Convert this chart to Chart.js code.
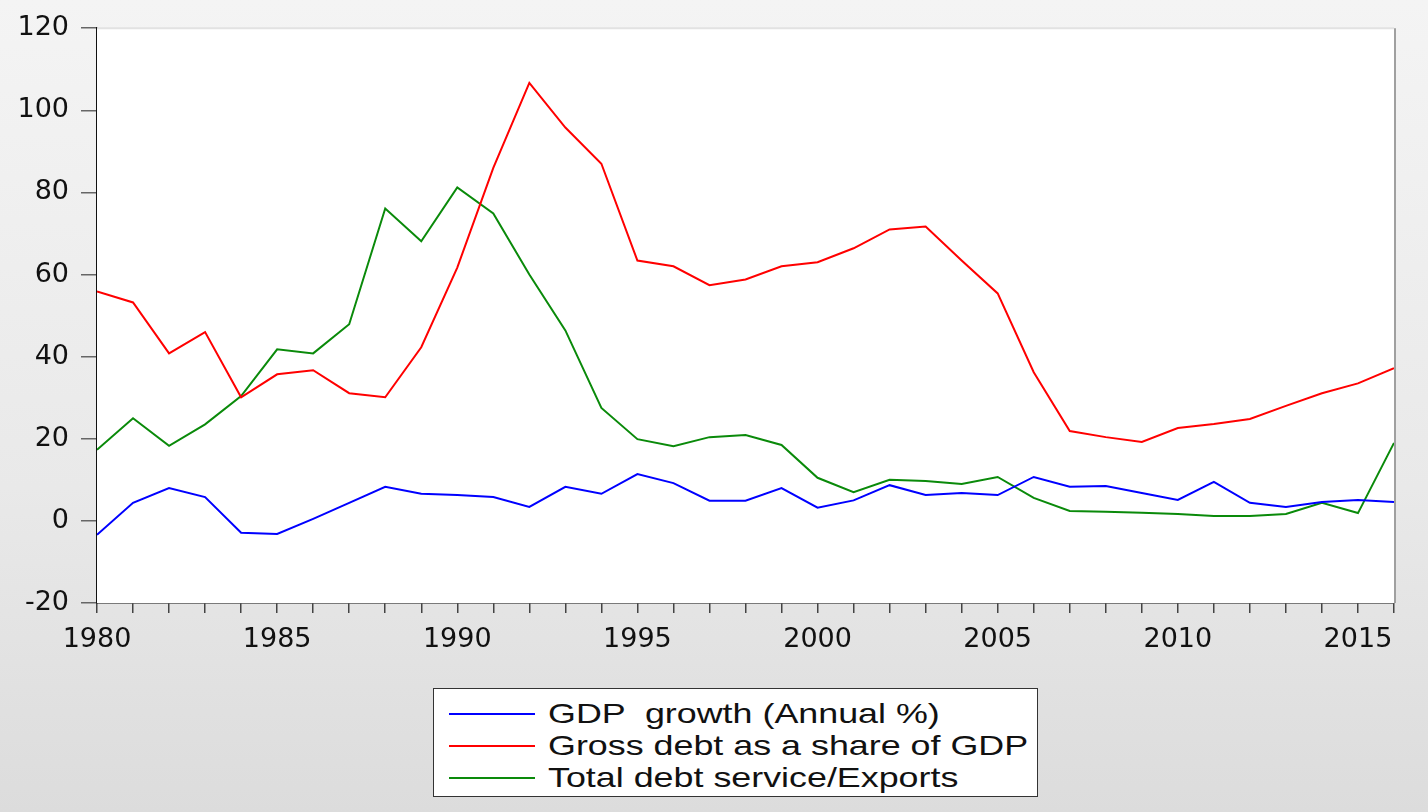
<!DOCTYPE html>
<html>
<head>
<meta charset="utf-8">
<script src="https://cdn.jsdelivr.net/npm/chart.js@4.4.0/dist/chart.umd.min.js"></script>
<style>
  html, body { margin: 0; padding: 0; }
  body {
    width: 1428px; height: 812px; overflow: hidden; position: relative;
    background: linear-gradient(to bottom, #f4f4f4 0%, #e9e9e9 60%, #dcdcdc 100%);
    font-family: "Liberation Sans", Arial, sans-serif;
  }
  #wrap { position: absolute; left: 0; top: 0; width: 1428px; height: 812px; }
  #legend {
    position: absolute; left: 433px; top: 688px; width: 605px; height: 109px;
    background: #fff; border: 1.5px solid #333; box-sizing: border-box;
    padding-top: 9px;
  }
  .row { display: flex; align-items: center; height: 32px; }
  .row .ln { width: 86px; height: 2px; margin-left: 15px; margin-right: 13px; flex-shrink: 0; }
  .row span {
    font-size: 28px; color: #111; white-space: pre;
    display: inline-block; transform: scaleX(1.28); transform-origin: left center;
  }
</style>
</head>
<body>
<div id="wrap"><canvas id="c" width="1428" height="812"></canvas></div>
<div id="legend"></div>
<script>
// 年份与三条序列
const years = [];
for (let y = 1980; y <= 2016; y++) years.push(y);

const gdpGrowth = [-3.4, 4.4, 8.0, 5.8, -2.9, -3.2, 0.5, 4.4, 8.3, 6.6,
  6.3, 5.8, 3.4, 8.3, 6.6, 11.4, 9.2, 4.9, 4.9, 8.0,
  3.2, 5.0, 8.7, 6.3, 6.8, 6.3, 10.7, 8.3, 8.5, 6.8,
  5.1, 9.5, 4.4, 3.4, 4.6, 5.1, 4.6];

const grossDebt = [55.9, 53.2, 40.8, 46.0, 30.1, 35.7, 36.7, 31.1, 30.1, 42.3,
  61.7, 86.0, 106.7, 95.8, 87.0, 63.4, 62.0, 57.4, 58.8, 62.0,
  63.0, 66.4, 71.0, 71.7, 63.4, 55.4, 36.2, 21.9, 20.4, 19.2,
  22.6, 23.6, 24.8, 28.0, 31.1, 33.5, 37.2];

const debtService = [17.3, 25.0, 18.3, 23.5, 30.4, 41.8, 40.8, 47.9, 76.1, 68.1,
  81.2, 74.9, 60.0, 46.4, 27.5, 19.9, 18.2, 20.4, 20.9, 18.5,
  10.5, 7.0, 10.0, 9.7, 9.0, 10.7, 5.6, 2.4, 2.2, 2.0,
  1.7, 1.2, 1.2, 1.7, 4.4, 1.9, 19.0];

const seriesNames = ['GDP  growth (Annual %)', 'Gross debt as a share of GDP', 'Total debt service/Exports'];
const seriesColors = ['#0000ff', '#ff0000', '#0a8a0a'];
const yTicks = [-20, 0, 20, 40, 60, 80, 100, 120];
const xLabelYears = [1980, 1985, 1990, 1995, 2000, 2005, 2010, 2015];

const toPts = arr => arr.map((v, i) => ({ x: years[i], y: v }));

// 绘图区白底和边框
const plotFrame = {
  id: 'plotFrame',
  beforeDatasetsDraw(chart) {
    const ca = chart.chartArea, ctx = chart.ctx;
    ctx.save();
    ctx.fillStyle = '#ffffff';
    ctx.fillRect(ca.left, ca.top, ca.right - ca.left, ca.bottom - ca.top);
    ctx.restore();
  },
  afterDraw(chart) {
    const ca = chart.chartArea, ctx = chart.ctx;
    ctx.save();
    ctx.strokeStyle = '#e2e2e2';
    ctx.lineWidth = 2;
    ctx.beginPath();
    ctx.moveTo(ca.left, ca.top);
    ctx.lineTo(ca.right, ca.top);
    ctx.stroke();
    ctx.strokeStyle = '#a0a0a0';
    ctx.beginPath();
    ctx.moveTo(ca.right + 1, ca.top);
    ctx.lineTo(ca.right + 1, ca.bottom);
    ctx.stroke();
    ctx.restore();
  }
};

const font = { family: '"DejaVu Sans", sans-serif', size: 27 };

new Chart(document.getElementById('c').getContext('2d'), {
  type: 'line',
  data: {
    datasets: [gdpGrowth, grossDebt, debtService].map((d, i) => ({
      label: seriesNames[i],
      data: toPts(d),
      borderColor: seriesColors[i],
      borderWidth: 2,
      pointRadius: 0,
      tension: 0,
      fill: false
    }))
  },
  options: {
    responsive: false,
    animation: false,
    layout: { padding: { top: 26, right: 34, bottom: 0, left: 0 } },
    plugins: { legend: { display: false }, tooltip: { enabled: false } },
    scales: {
      x: {
        type: 'linear',
        min: 1980, max: 2016,
        afterFit: s => { s.height = 209; },
        afterBuildTicks: s => { s.ticks = years.map(v => ({ value: v })); },
        ticks: {
          autoSkip: false, maxRotation: 0, padding: 11,
          color: '#111', font,
          callback: v => xLabelYears.includes(v) ? String(v) : ''
        },
        grid: { drawOnChartArea: false, tickLength: 10, color: '#444', lineWidth: 1.5 },
        border: { color: '#111', width: 1.5 }
      },
      y: {
        min: -20, max: 120,
        afterFit: s => { s.width = 97; },
        afterBuildTicks: s => { s.ticks = yTicks.map(v => ({ value: v })); },
        ticks: { padding: 12, color: '#111', font },
        grid: { drawOnChartArea: false, tickLength: 16, color: '#666', lineWidth: 1.5 },
        border: { color: '#111', width: 1.5 }
      }
    }
  },
  plugins: [plotFrame]
});

// HTML 图例
document.getElementById('legend').innerHTML = seriesNames.map((n, i) =>
  `<div class="row"><div class="ln" style="background:${seriesColors[i]}"></div><span>${n}</span></div>`
).join('');
</script>
</body>
</html>
